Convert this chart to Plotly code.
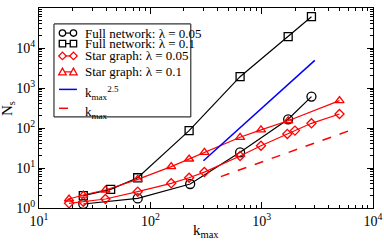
import plotly.graph_objects as go

# ---- data ----
full05_x = [25, 77, 228, 640, 1730, 2800]
full05_y = [1.26, 1.74, 3.98, 24.7, 165, 610]

full01_x = [25, 44, 77, 223, 640, 1730, 2800]
full01_y = [2.03, 2.93, 5.7, 86, 1920, 19200, 60600]

star05_x = [18.6, 25, 39.5, 77, 154, 223, 306, 640, 986, 1700, 1990, 2800, 5000]
star05_y = [1.31, 1.44, 1.68, 2.56, 4.14, 5.7, 7.9, 20, 36, 71, 86, 131, 224]

star01_x = [18.6, 25, 39.5, 77, 154, 223, 306, 640, 986, 1730, 5000]
star01_y = [1.68, 2.11, 2.82, 5.2, 10.8, 16.8, 24.6, 58.6, 90, 152, 482]

ref25_x = [300, 3000]
ref25_y = [15.2, 4900]

ref1_x = [430, 6000]
ref1_y = [6.1, 84]

series_names = ["Full network: λ = 0.05", "Full network: λ = 0.1",
                "Star graph: λ = 0.05", "Star graph: λ = 0.1",
                "k<sub>max</sub><sup>2.5</sup>", "k<sub>max</sub>"]

xtick_vals = [10, 100, 1000, 10000]
xtick_text = ["10<sup>1</sup>", "10<sup>2</sup>", "10<sup>3</sup>", "10<sup>4</sup>"]
ytick_vals = [1, 10, 100, 1000, 10000, 100000]
ytick_text = ["10<sup>0</sup>", "10<sup>1</sup>", "10<sup>2</sup>", "10<sup>3</sup>", "10<sup>4</sup>", "10<sup>5</sup>"]

FONT = "Liberation Serif, Times New Roman, serif"

W, H = 384, 245
L, R, T, B = 39, 10.5, 7.5, 36.5
PW, PH = W - L - R, H - T - B


def px(x):
    return (x - L) / PW


def py(y):
    return (H - B - y) / PH


fig = go.Figure()
styles = [
    dict(color="black", symbol="circle-open", size=9),
    dict(color="black", symbol="square-open", size=8),
    dict(color="red", symbol="diamond-open", size=7),
    dict(color="red", symbol="triangle-up-open", size=8),
]
data = [(full05_x, full05_y), (full01_x, full01_y), (star05_x, star05_y), (star01_x, star01_y)]
for (xs, ys), st, nm in zip(data, styles, series_names[:4]):
    fig.add_trace(go.Scatter(x=xs, y=ys, mode="lines+markers", name=nm, showlegend=False,
                             line=dict(color=st["color"], width=1.2),
                             marker=dict(symbol=st["symbol"], size=st["size"], color=st["color"],
                                         line=dict(width=1.3))))
fig.add_trace(go.Scatter(x=ref25_x, y=ref25_y, mode="lines", name=series_names[4], showlegend=False,
                         line=dict(color="blue", width=1.5)))
fig.add_trace(go.Scatter(x=ref1_x, y=ref1_y, mode="lines", name=series_names[5], showlegend=False,
                         line=dict(color="red", width=1.5, dash="dash")))

minor_x = [m * 10 ** e for e in range(1, 4) for m in range(2, 10)]
minor_y = [m * 10 ** e for e in range(0, 5) for m in range(2, 10)]

axis_common = dict(type="log", showgrid=False, zeroline=False, showline=True,
                   linecolor="black", linewidth=1, mirror="allticks", automargin=False,
                   ticks="inside", ticklen=6, tickcolor="black", tickwidth=1,
                   tickfont=dict(family=FONT, size=14, color="black"))

fig.update_xaxes(**axis_common, range=[1, 4], tickvals=xtick_vals, ticktext=xtick_text,
                 minor=dict(tickvals=minor_x, ticks="inside", ticklen=3, tickcolor="black"))
fig.update_yaxes(**axis_common, range=[0, 5], tickvals=ytick_vals, ticktext=ytick_text,
                 minor=dict(tickvals=minor_y, ticks="inside", ticklen=3, tickcolor="black"))

# ---- hand-drawn legend (layout decoration) ----
shapes = []
annotations = []
row_y = [32.7, 43.3, 55.7, 71.7, 89.3, 108.3]
mx = [62.5, 73.5]
r = 3.2
for i in range(4):
    yy = row_y[i]
    c = styles[i]["color"]
    shapes.append(dict(type="line", xref="paper", yref="paper", x0=px(mx[0]), x1=px(mx[1]),
                       y0=py(yy), y1=py(yy), line=dict(color=c, width=1.2), layer="above"))
    for cx in mx:
        if i == 0:
            shapes.append(dict(type="circle", xref="paper", yref="paper",
                               x0=px(cx - r), x1=px(cx + r), y0=py(yy + r), y1=py(yy - r),
                               line=dict(color=c, width=1.3), fillcolor="white", layer="above"))
        elif i == 1:
            shapes.append(dict(type="rect", xref="paper", yref="paper",
                               x0=px(cx - r), x1=px(cx + r), y0=py(yy + r), y1=py(yy - r),
                               line=dict(color=c, width=1.3), fillcolor="white", layer="above"))
        elif i == 2:
            d = r + 0.6
            path = "M %f,%f L %f,%f L %f,%f L %f,%f Z" % (
                px(cx - d), py(yy), px(cx), py(yy - d), px(cx + d), py(yy), px(cx), py(yy + d))
            shapes.append(dict(type="path", xref="paper", yref="paper", path=path,
                               line=dict(color=c, width=1.2), fillcolor="white", layer="above"))
        else:
            d = r + 0.6
            path = "M %f,%f L %f,%f L %f,%f Z" % (
                px(cx - d), py(yy + d * 0.8), px(cx), py(yy - d), px(cx + d), py(yy + d * 0.8))
            shapes.append(dict(type="path", xref="paper", yref="paper", path=path,
                               line=dict(color=c, width=1.2), fillcolor="white", layer="above"))
shapes.append(dict(type="line", xref="paper", yref="paper", x0=px(59), x1=px(77),
                   y0=py(row_y[4]), y1=py(row_y[4]), line=dict(color="blue", width=1.5), layer="above"))
shapes.append(dict(type="line", xref="paper", yref="paper", x0=px(59), x1=px(77),
                   y0=py(row_y[5]), y1=py(row_y[5]), line=dict(color="red", width=1.5, dash="dash"),
                   layer="above"))
# legend frame: four lines
fx0, fx1, fy0, fy1 = px(54), px(191), py(23.5), py(117)
for (a, b, c, d) in [(fx0, fy0, fx1, fy0), (fx1, fy0, fx1, fy1), (fx1, fy1, fx0, fy1), (fx0, fy1, fx0, fy0)]:
    shapes.append(dict(type="line", xref="paper", yref="paper", x0=a, y0=b, x1=c, y1=d,
                       line=dict(color="#333333", width=1.2), layer="above"))

for i, nm in enumerate(series_names):
    yy = row_y[i]
    if i >= 4:
        yy += 4
    annotations.append(dict(text=nm, xref="paper", yref="paper", x=px(83), y=py(yy),
                            xanchor="left", yanchor="middle", showarrow=False,
                            font=dict(family=FONT, size=13, color="black")))

# axis titles
annotations.append(dict(text="k<sub>max</sub>", xref="paper", yref="paper",
                        x=px(206), y=py(232), xanchor="center", yanchor="middle", showarrow=False,
                        font=dict(family=FONT, size=15, color="black")))
annotations.append(dict(text="N<sub>s</sub>", xref="paper", yref="paper", textangle=-90,
                        x=px(8), y=py(109), xanchor="center", yanchor="middle", showarrow=False,
                        font=dict(family=FONT, size=15, color="black")))

fig.update_layout(
    width=W, height=H,
    margin=dict(l=L, r=R, t=T, b=B),
    paper_bgcolor="white", plot_bgcolor="white",
    font=dict(family=FONT, color="black"),
    showlegend=False,
    shapes=shapes,
    annotations=annotations,
)

fig.write_html("out.html", config={"displayModeBar": False},
               post_script="document.body.style.margin='0px';document.body.style.padding='0px';")
